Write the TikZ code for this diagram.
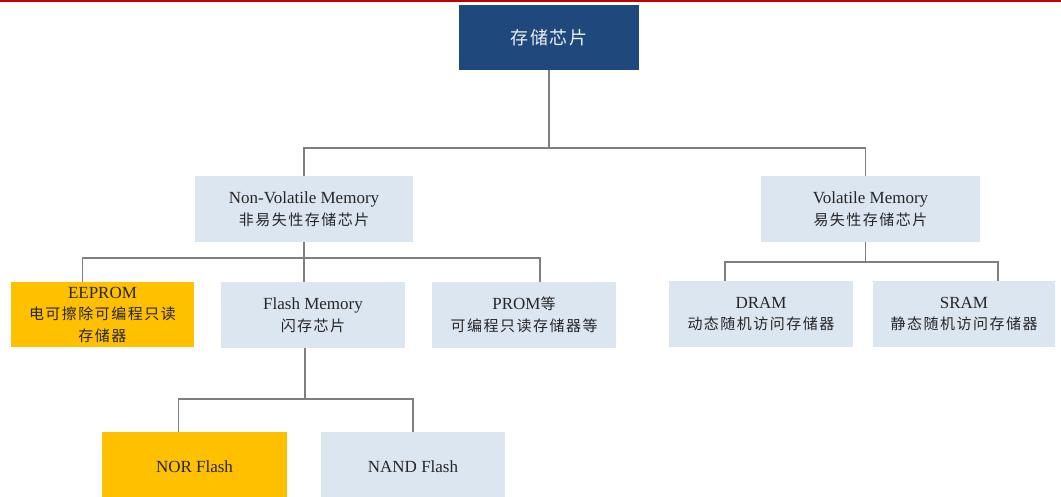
\documentclass[tikz,border=0pt]{standalone}
\usepackage{fontspec}
\setmainfont{Liberation Serif}
\newfontfamily\cjk[LetterSpace=10]{Noto Sans CJK SC}
\usepackage{xcolor}
\definecolor{chipblue}{HTML}{1F497D}
\definecolor{boxblue}{HTML}{DCE6F1}
\definecolor{chiporange}{HTML}{FFC000}
\definecolor{topred}{HTML}{C00000}
\definecolor{linkgray}{HTML}{7F7F7F}

\begin{document}
\begin{tikzpicture}[x=1pt,y=-1pt,
  box/.style={fill=boxblue,text=black!85,minimum width=184pt,minimum height=66pt,
    inner sep=0pt,align=center,font=\fontsize{17}{21.5}\selectfont},
  hot/.style={box,fill=chiporange},
  link/.style={draw=linkgray,line width=1.5pt}]
  \useasboundingbox (0,0) rectangle (1061,497);
  \clip (0,0) rectangle (1061,497);
  \fill[topred] (0,0) rectangle (1061,2.5);

  % boxes
  \node[box,fill=chipblue,text=white!92!chipblue,minimum width=180pt,minimum height=65pt,
    font=\fontsize{18}{22}\selectfont] (chip) at (549,37.5) {\cjk 存储芯片};
  \node[box,minimum width=218pt] (nvm) at (304,209)
    {Non-Volatile Memory\\\cjk\fontsize{15}{21.5}\selectfont 非易失性存储芯片};
  \node[box,minimum width=219pt] (vm) at (870.5,209)
    {Volatile Memory\\\cjk\fontsize{15}{21.5}\selectfont 易失性存储芯片};
  \node[hot,minimum width=183pt,minimum height=65pt] (eeprom) at (102.5,314.5)
    {EEPROM\\{\cjk\fontsize{15}{21.5}\selectfont 电可擦除可编程只读}\\\cjk\fontsize{15}{21.5}\selectfont 存储器};
  \node[box] (flash) at (313,315)
    {Flash Memory\\\cjk\fontsize{15}{21.5}\selectfont 闪存芯片};
  \node[box] (prom) at (524,315)
    {PROM{\cjk\fontsize{15}{21.5}\selectfont 等}\\\cjk\fontsize{15}{21.5}\selectfont 可编程只读存储器等};
  \node[box] (dram) at (761,314)
    {DRAM\\\cjk\fontsize{15}{21.5}\selectfont 动态随机访问存储器};
  \node[box,minimum width=182pt] (sram) at (964,314)
    {SRAM\\\cjk\fontsize{15}{21.5}\selectfont 静态随机访问存储器};
  \node[hot,minimum width=185pt,minimum height=70pt] (nor) at (194.5,467) {NOR Flash};
  \node[box,minimum height=70pt] (nand) at (413,467) {NAND Flash};

  % links
  \draw[link] (chip.south) -- ++(0,78) coordinate (bus0);
  \draw[link] (bus0) -| (nvm.north);
  \draw[link] (bus0) -| ([xshift=-5pt]vm.north);
  \draw[link] (nvm.south) -- ++(0,16) coordinate (bus1);
  \draw[link] (bus1) -| ([xshift=-20pt]eeprom.north);
  \draw[link] (bus1) -| ([xshift=-9pt]flash.north);
  \draw[link] (bus1) -| ([xshift=16pt]prom.north);
  \draw[link] ([xshift=-5pt]vm.south) -- ++(0,20) coordinate (bus2);
  \draw[link] (bus2) -| ([xshift=-36pt]dram.north);
  \draw[link] (bus2) -| ([xshift=34pt]sram.north);
  \draw[link] ([xshift=-8pt]flash.south) -- ++(0,51) coordinate (bus3);
  \draw[link] (bus3) -| ([xshift=-16pt]nor.north);
  \draw[link] (bus3) -| (nand.north);
\end{tikzpicture}
\end{document}
